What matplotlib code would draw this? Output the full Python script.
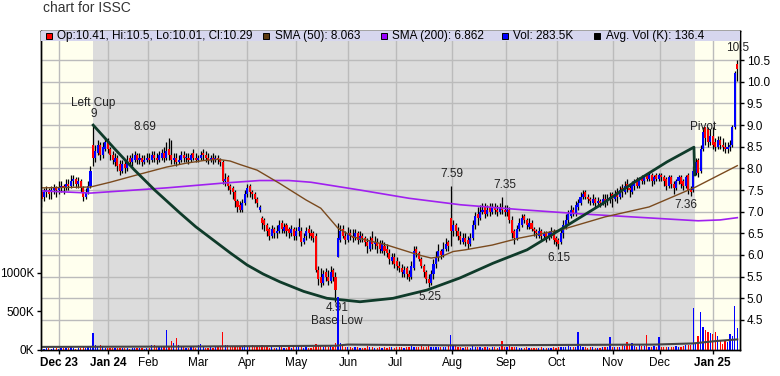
import numpy as np
import matplotlib
matplotlib.use('Agg')
import matplotlib.pyplot as plt
from matplotlib.patches import Rectangle

plt.rcParams['font.family'] = ['Liberation Sans', 'DejaVu Sans']

# daily bars, one per trading day, late Nov 2023 -> mid Jan 2025
opens = [7.45, 7.35, 7.45, 7.50, 7.45, 7.50, 7.55, 7.50, 7.55, 7.60, 7.55, 7.65, 7.60, 7.70, 7.75, 7.65, 7.70, 7.55, 7.35, 7.45, 7.60,
         8.55,
         8.25, 8.35, 8.55, 8.30, 8.45, 8.65,
         8.45, 8.30, 8.15, 8.25, 8.10, 7.95, 8.10,
         8.00, 8.25, 8.15, 8.20, 8.30, 8.20, 8.25, 8.15, 8.20, 8.25, 8.20, 8.30, 8.25, 8.20, 8.25, 8.35, 8.25, 8.45, 8.30, 8.20, 8.25, 8.15, 8.20, 8.30,
         8.25, 8.25, 8.20, 8.35, 8.25, 8.20, 8.25, 8.35, 8.30, 8.25, 8.20, 8.25, 8.20, 8.25, 8.20,
         8.15, 7.70, 7.80, 7.60, 7.55, 7.45, 7.25, 7.15, 7.05, 7.20, 7.40, 7.60, 7.45, 7.40, 7.30, 7.05,
         6.85, 6.80, 6.70, 6.60, 6.45, 6.60, 6.50, 6.55, 6.75, 6.55, 6.70, 6.60, 6.50, 6.60, 6.45, 6.55, 6.55, 6.30, 6.45, 6.60, 6.50, 6.50,
         6.45, 5.65, 5.50, 5.35, 5.60, 5.50, 5.40, 5.65, 5.50,
         5.95, 6.35, 6.60, 6.45, 6.35, 6.50, 6.45, 6.40, 6.50, 6.35, 6.45,
         6.40, 6.30, 6.15, 6.40, 6.25, 6.30, 6.25, 6.10,
         6.20, 6.15, 6.05, 5.85, 5.95, 5.85, 5.75, 5.70, 5.55, 5.70, 5.55,
         5.50, 5.70, 6.15, 6.05, 5.90, 5.75, 5.60, 5.45,
         5.35, 5.55, 5.80, 5.95, 6.10, 6.00, 6.15, 6.30,
         6.85, 6.55, 6.70, 6.55, 6.45, 6.30, 6.40, 6.35, 6.25,
         6.40, 6.70, 6.95, 6.85, 7.00, 7.10, 6.95, 7.10, 7.00, 7.10, 7.05, 7.00, 7.10, 7.05, 7.00,
         7.05, 6.80, 6.55, 6.40, 6.60, 6.70, 6.90, 6.80, 6.65, 6.75,
         6.60, 6.55, 6.45, 6.55, 6.45, 6.50, 6.40, 6.45, 6.55, 6.40, 6.35,
         6.30, 6.50, 6.65, 6.80, 6.90, 7.05, 6.95, 7.10,
         7.20, 7.35, 7.45, 7.35, 7.30, 7.20, 7.30, 7.20, 7.25, 7.20,
         7.30, 7.25, 7.30, 7.40, 7.30, 7.45, 7.35, 7.55, 7.45, 7.65, 7.55, 7.45,
         7.60, 7.75, 7.60, 7.80, 7.70, 7.85, 7.75, 7.85, 7.70, 7.85, 7.75, 7.85,
         7.80, 7.75, 7.60, 7.80, 7.65, 7.55, 7.70, 7.80, 7.70, 7.60, 7.85, 7.50,
         7.50, 7.90, 8.20, 7.95, 8.45, 8.95,
         8.90, 8.60, 8.75, 8.60, 8.50, 8.65, 8.55, 8.50, 8.45, 8.50,
         8.55, 8.95, 10.41]

highs = [7.50, 7.55, 7.60, 7.55, 7.60, 7.65, 7.60, 7.70, 7.70, 7.65, 7.75, 7.75, 7.85, 7.85, 7.80, 7.80, 7.75, 7.60, 7.55, 7.70, 8.05,
         9.00,
         8.55, 8.65, 8.60, 8.60, 8.70, 8.70,
         8.50, 8.40, 8.35, 8.30, 8.20, 8.20, 8.20,
         8.30, 8.30, 8.35, 8.40, 8.35, 8.35, 8.30, 8.30, 8.35, 8.35, 8.40, 8.40, 8.35, 8.40, 8.45, 8.50, 8.60, 8.70, 8.65, 8.35, 8.35, 8.30, 8.40, 8.40,
         8.35, 8.35, 8.35, 8.45, 8.35, 8.30, 8.40, 8.45, 8.40, 8.35, 8.30, 8.35, 8.30, 8.30, 8.25,
         8.20, 7.90, 7.85, 7.65, 7.60, 7.50, 7.30, 7.25, 7.30, 7.50, 7.65, 7.65, 7.50, 7.45, 7.35, 7.15,
         6.90, 6.85, 6.75, 6.65, 6.70, 6.65, 6.70, 6.80, 6.80, 6.75, 6.75, 6.65, 6.70, 6.65, 6.65, 6.85, 6.65, 6.50, 6.65, 6.70, 6.60, 6.55,
         6.50, 5.75, 5.70, 5.65, 5.70, 5.65, 5.75, 5.70, 5.60,
         6.75, 6.70, 6.70, 6.55, 6.65, 6.60, 6.60, 6.60, 6.55, 6.55, 6.50,
         6.45, 6.40, 6.45, 6.55, 6.45, 6.40, 6.35, 6.35,
         6.30, 6.25, 6.15, 6.05, 6.05, 5.95, 5.85, 5.80, 5.75, 5.75, 5.65,
         5.85, 6.20, 6.20, 6.10, 5.95, 5.80, 5.65, 5.55,
         5.65, 5.90, 6.10, 6.25, 6.15, 6.30, 6.40, 6.35,
         7.59, 6.80, 6.75, 6.65, 6.55, 6.50, 6.50, 6.45, 6.50,
         6.80, 7.00, 7.10, 7.15, 7.20, 7.20, 7.15, 7.20, 7.20, 7.20, 7.15, 7.20, 7.35, 7.15, 7.15,
         7.10, 6.90, 6.60, 6.70, 6.85, 6.95, 6.95, 6.85, 6.85, 6.80,
         6.65, 6.60, 6.65, 6.60, 6.55, 6.55, 6.55, 6.65, 6.60, 6.45, 6.40,
         6.60, 6.80, 6.95, 7.05, 7.15, 7.10, 7.25, 7.30,
         7.45, 7.50, 7.50, 7.40, 7.35, 7.40, 7.35, 7.35, 7.30, 7.40,
         7.40, 7.40, 7.45, 7.45, 7.50, 7.55, 7.60, 7.65, 7.70, 7.75, 7.65, 7.70,
         7.75, 7.80, 7.80, 7.85, 7.85, 7.90, 7.90, 7.90, 7.85, 7.90, 7.90, 7.90,
         7.85, 7.80, 7.85, 7.85, 7.70, 7.75, 7.85, 7.85, 7.75, 7.85, 7.90, 7.60,
         8.05, 8.25, 8.25, 8.55, 8.95, 8.95,
         8.95, 8.90, 8.95, 8.70, 8.75, 8.75, 8.70, 8.60, 8.60, 8.65,
         9.00, 10.25, 10.50]

lows = [7.10, 7.25, 7.35, 7.30, 7.30, 7.40, 7.35, 7.40, 7.45, 7.40, 7.50, 7.50, 7.55, 7.60, 7.55, 7.55, 7.45, 7.25, 7.30, 7.40, 7.55,
        8.05,
        8.15, 8.30, 8.20, 8.25, 8.40, 8.35,
        8.20, 8.10, 8.05, 7.95, 7.85, 7.90, 7.90,
        7.95, 8.05, 8.05, 8.15, 8.10, 8.10, 8.05, 8.10, 8.15, 8.10, 8.15, 8.15, 8.10, 8.15, 8.20, 8.15, 8.20, 8.20, 8.10, 8.10, 8.05, 8.10, 8.15, 8.15,
        8.15, 8.10, 8.15, 8.20, 8.15, 8.15, 8.20, 8.20, 8.15, 8.10, 8.15, 8.10, 8.15, 8.10, 8.05,
        7.65, 7.60, 7.50, 7.40, 7.30, 7.10, 7.00, 7.00, 7.00, 7.15, 7.35, 7.35, 7.30, 7.20, 7.10, 7.00,
        6.60, 6.55, 6.45, 6.35, 6.40, 6.40, 6.40, 6.50, 6.50, 6.50, 6.45, 6.40, 6.45, 6.35, 6.35, 6.45, 6.20, 6.25, 6.35, 6.40, 6.35, 6.30,
        5.60, 5.30, 5.25, 5.30, 5.40, 5.30, 5.35, 5.40, 4.91,
        5.95, 6.30, 6.40, 6.25, 6.30, 6.35, 6.30, 6.35, 6.25, 6.30, 6.30,
        6.20, 6.05, 6.10, 6.15, 6.15, 6.05, 6.05, 6.05,
        6.00, 5.95, 5.80, 5.80, 5.70, 5.65, 5.60, 5.50, 5.50, 5.45, 5.40,
        5.45, 5.65, 5.95, 5.85, 5.70, 5.50, 5.35, 5.25,
        5.30, 5.45, 5.70, 5.85, 5.90, 5.95, 6.10, 6.10,
        6.20, 6.45, 6.45, 6.35, 6.25, 6.25, 6.20, 6.15, 6.20,
        6.35, 6.60, 6.70, 6.80, 6.95, 6.85, 6.90, 6.90, 6.95, 6.95, 6.90, 6.95, 6.95, 6.90, 6.90,
        6.75, 6.40, 6.25, 6.35, 6.55, 6.65, 6.75, 6.60, 6.60, 6.55,
        6.45, 6.40, 6.40, 6.35, 6.40, 6.30, 6.35, 6.40, 6.25, 6.20, 6.15,
        6.25, 6.40, 6.60, 6.75, 6.85, 6.90, 6.90, 7.05,
        7.15, 7.30, 7.30, 7.20, 7.15, 7.15, 7.10, 7.15, 7.10, 7.15,
        7.10, 7.15, 7.20, 7.10, 7.25, 7.20, 7.30, 7.35, 7.40, 7.45, 7.35, 7.40,
        7.50, 7.55, 7.55, 7.65, 7.65, 7.70, 7.70, 7.60, 7.65, 7.70, 7.70, 7.70,
        7.60, 7.50, 7.55, 7.55, 7.40, 7.50, 7.65, 7.55, 7.50, 7.55, 7.40, 7.36,
        7.45, 7.85, 7.80, 7.90, 8.40, 8.55,
        8.50, 8.55, 8.45, 8.40, 8.45, 8.45, 8.40, 8.35, 8.35, 8.40,
        8.50, 8.90, 10.01]

closes = [7.30, 7.45, 7.50, 7.40, 7.50, 7.55, 7.50, 7.55, 7.60, 7.55, 7.65, 7.60, 7.70, 7.75, 7.65, 7.70, 7.55, 7.35, 7.45, 7.60, 7.95,
          8.25,
          8.40, 8.55, 8.30, 8.50, 8.60, 8.45,
          8.30, 8.20, 8.25, 8.05, 7.95, 8.10, 8.00,
          8.20, 8.15, 8.25, 8.30, 8.20, 8.25, 8.15, 8.20, 8.25, 8.20, 8.30, 8.25, 8.20, 8.30, 8.35, 8.25, 8.40, 8.30, 8.20, 8.25, 8.15, 8.20, 8.30, 8.25,
          8.25, 8.20, 8.30, 8.25, 8.20, 8.25, 8.30, 8.30, 8.25, 8.20, 8.25, 8.20, 8.25, 8.20, 8.15,
          7.70, 7.75, 7.60, 7.50, 7.45, 7.25, 7.10, 7.05, 7.20, 7.40, 7.55, 7.45, 7.40, 7.30, 7.20, 7.10,
          6.75, 6.70, 6.55, 6.45, 6.60, 6.50, 6.55, 6.70, 6.60, 6.65, 6.55, 6.50, 6.60, 6.45, 6.55, 6.65, 6.30, 6.40, 6.55, 6.50, 6.45, 6.40,
          5.65, 5.45, 5.35, 5.55, 5.50, 5.40, 5.60, 5.50, 5.20,
          6.40, 6.55, 6.45, 6.35, 6.50, 6.45, 6.40, 6.50, 6.35, 6.45, 6.40,
          6.30, 6.20, 6.35, 6.25, 6.30, 6.20, 6.15, 6.25,
          6.10, 6.05, 5.90, 5.95, 5.80, 5.75, 5.70, 5.60, 5.65, 5.55, 5.50,
          5.75, 6.10, 6.05, 5.90, 5.75, 5.60, 5.45, 5.35,
          5.55, 5.80, 5.95, 6.10, 6.00, 6.15, 6.25, 6.20,
          6.55, 6.70, 6.55, 6.45, 6.35, 6.40, 6.30, 6.25, 6.40,
          6.70, 6.90, 6.85, 7.00, 7.05, 6.95, 7.05, 7.00, 7.10, 7.05, 7.00, 7.10, 7.05, 7.00, 7.05,
          6.80, 6.50, 6.40, 6.60, 6.75, 6.85, 6.80, 6.70, 6.75, 6.60,
          6.55, 6.50, 6.55, 6.45, 6.50, 6.40, 6.50, 6.55, 6.35, 6.30, 6.25,
          6.50, 6.70, 6.80, 6.95, 7.05, 6.95, 7.15, 7.20,
          7.35, 7.40, 7.35, 7.30, 7.25, 7.30, 7.20, 7.25, 7.20, 7.30,
          7.25, 7.30, 7.35, 7.30, 7.40, 7.35, 7.50, 7.45, 7.60, 7.55, 7.50, 7.65,
          7.70, 7.60, 7.75, 7.70, 7.80, 7.75, 7.85, 7.70, 7.80, 7.75, 7.85, 7.80,
          7.70, 7.60, 7.80, 7.65, 7.55, 7.70, 7.80, 7.65, 7.60, 7.80, 7.50, 7.45,
          7.95, 8.15, 7.90, 8.45, 8.85, 8.70,
          8.60, 8.75, 8.55, 8.50, 8.65, 8.55, 8.50, 8.45, 8.50, 8.55,
          8.95, 10.20, 10.29]

# volume in thousands of shares
volume_k = [25, 15, 20, 30, 15, 20, 25, 15, 20, 30, 20, 25, 35, 20, 15, 25, 30, 45, 25, 35, 50,
            220, 60, 40, 70, 35, 30, 25, 30, 20, 25, 20, 30, 25, 20,
            20, 15, 25, 20, 30, 20, 25, 15, 20, 25, 60, 65, 40, 50, 35, 40, 260, 45, 110, 90, 150, 70, 40, 35,
            30, 25, 40, 35, 30, 70, 80, 45, 30, 25, 35, 30, 40, 35, 50,
            230, 60, 70, 45, 40, 55, 50, 35, 40, 60, 45, 50, 70, 40, 35, 45,
            60, 40, 35, 30, 45, 30, 25, 40, 35, 30, 25, 35, 30, 40, 35, 45, 50, 30, 35, 25, 30, 40,
            80, 60, 55, 45, 60, 40, 50, 45, 90,
            685, 90, 60, 45, 40, 35, 30, 40, 35, 30, 25,
            30, 50, 35, 40, 30, 25, 35, 30,
            35, 30, 40, 35, 30, 45, 35, 40, 30, 35, 40,
            50, 45, 35, 40, 60, 45, 40, 55,
            40, 35, 45, 40, 35, 45, 40, 50,
            195, 55, 70, 40, 35, 30, 40, 35, 30,
            60, 45, 40, 35, 30, 40, 35, 30, 35, 40, 30, 35, 115, 40, 35,
            50, 45, 40, 35, 30, 25, 30, 35, 30, 25,
            30, 25, 30, 35, 30, 25, 30, 25, 35, 30, 40,
            45, 40, 35, 50, 40, 35, 45, 237,
            50, 40, 35, 30, 40, 35, 30, 25, 30, 35,
            40, 35, 172, 40, 35, 45, 40, 60, 50, 107, 80, 90,
            50, 45, 60, 50, 55, 194, 45, 40, 50, 45, 172, 40,
            35, 40, 45, 35, 40, 50, 45, 40, 50, 70, 60, 70,
            540, 90, 180, 487, 300, 258, 237, 215, 210, 237, 180, 130, 80, 120, 100, 202, 185, 568, 283.5]

# moving averages and average volume at a few points
sma50_day = [0, 20, 28, 39, 51, 59, 66, 72, 77, 81, 88, 97, 108, 114, 121, 127, 141, 154, 159, 163, 168, 173, 184, 195, 212, 230, 248, 267, 284]
sma50_val = [7.55, 7.57, 7.68, 7.85, 8.03, 8.12, 8.18, 8.21, 8.17, 8.09, 7.96, 7.66, 7.27, 7.08, 6.62, 6.42, 6.23, 6.00, 5.93, 5.96,
             6.08, 6.12, 6.23, 6.39, 6.58, 6.88, 7.11, 7.57, 8.063]
sma200_day = [0, 20, 51, 74, 89, 101, 110, 130, 150, 171, 195, 220, 250, 268, 277, 284]
sma200_val = [7.48, 7.43, 7.55, 7.66, 7.72, 7.72, 7.68, 7.50, 7.31, 7.16, 7.05, 6.95, 6.85, 6.79, 6.81, 6.862]
avgvol_day = [0, 60, 120, 125, 170, 250, 266, 275, 284]
avgvol_val = [40, 45, 55, 70, 60, 70, 85, 115, 136.4]

# cup-with-handle pattern line
cup_day = [21.1, 29.9, 38.0, 46.2, 56.5, 63.0, 70, 77.0, 83.9, 90.5, 97.3, 107.0, 116.5, 130, 143.5, 157.3, 170.8,
           184.3, 198.2, 211.6, 228, 241.4, 255.3, 266.3, 266.6]
cup_val = [9.0, 8.45, 7.96, 7.5, 6.97, 6.65, 6.35, 6.05, 5.77, 5.56, 5.38, 5.16, 5.0, 4.92, 5.0, 5.19, 5.47,
           5.81, 6.12, 6.58, 7.15, 7.66, 8.15, 8.49, 7.85]

month_pos = [7.3, 27.3, 43.6, 63.8, 84.0, 103.9, 125.2, 144.6, 167.7, 189.5, 210.3, 233.1, 252.4, 274.0]
month_labels = ['Dec 23', 'Jan 24', 'Feb', 'Mar', 'Apr', 'May', 'Jun', 'Jul', 'Aug', 'Sep', 'Oct', 'Nov', 'Dec', 'Jan 25']
bold_labels = ['Dec 23', 'Jan 24', 'Jan 25']

shade_ranges = [(-0.5, 20.9), (266.8, 286)]

notes = [('Left Cup', 21.2, 9.52), ('9', 21.2, 9.26), ('8.69', 42.2, 8.96), ('4.91', 120.6, 4.77),
         ('Base Low', 120.6, 4.47), ('5.25', 158.6, 5.03), ('7.59', 167.6, 7.87), ('7.35', 189.2, 7.62),
         ('6.15', 211.2, 5.93), ('7.36', 263.0, 7.15), ('Pivot', 270.0, 8.96), ('10.5', 284.3, 10.78)]

days = np.arange(len(closes))
o = np.array(opens)
c = np.array(closes)

fig = plt.figure(figsize=(7.8, 3.76), dpi=100)
ax = fig.add_axes([41 / 780, 26 / 376, 699 / 780, 319 / 376])
ax.set_facecolor('#dcdcdc')
ax_vol = ax.twinx()

for a, b in shade_ranges:
    ax.axvspan(a, b, color='#ffffee', lw=0, zorder=0.1)

ax.set_axisbelow(True)
ax.grid(True, color='#bbbbbb', lw=1)

# candles: black high-low wick, colored open-close body
ax.vlines(days, lows, highs, color='black', lw=0.9, zorder=2)
body = np.where(np.abs(c - o) < 0.02, 0.02, c - o)
ax.bar(days, body, bottom=o, width=0.85, color=np.where(c >= o, '#0000ff', '#ff0000'), lw=0, zorder=3)

ax.plot(sma200_day, sma200_val, color='#a020f0', lw=1.2, zorder=4)
ax.plot(sma50_day, sma50_val, color='#7a4a1e', lw=1.0, zorder=4)
ax.plot(cup_day, cup_val, color='#0f3b2a', lw=2.0, zorder=5)

for txt, x, y in notes:
    ax.text(x, y, txt, ha='center', va='center', fontsize=8.5, color='#222222', zorder=6)

# volume bars colored by close vs previous close
prev = np.r_[c[0], c[:-1]]
ax_vol.bar(days, volume_k, width=0.5, color=np.where(c >= prev, '#0000ff', '#ff0000'), lw=0)
ax_vol.plot(avgvol_day, avgvol_val, color='#444444', lw=1.5)

ax.set_xlim(-0.2, 285.1)
ax.set_ylim(3.806, 11.173)
ax_vol.set_ylim(0, 4121)

ax.yaxis.tick_right()
ax.set_yticks(np.arange(4.5, 10.51, 0.5))
ax.set_yticklabels(['%.1f' % v for v in np.arange(4.5, 10.51, 0.5)])
ax_vol.yaxis.tick_left()
ax_vol.set_yticks([0, 500, 1000])
ax_vol.set_yticklabels(['0K', '500K', '1000K'])

ax.set_xticks(month_pos)
ax.set_xticklabels(month_labels)
for lab in ax.get_xticklabels():
    if lab.get_text() in bold_labels:
        lab.set_fontweight('bold')

for a in (ax, ax_vol):
    a.tick_params(length=3, width=1, labelsize=8.5, colors='black', pad=2)
    for s in a.spines.values():
        s.set_color('black')
        s.set_linewidth(1)

# legend strip along the top of the plot
ax_vol.add_patch(Rectangle((0, 0.9687), 1, 0.0313, transform=ax_vol.transAxes,
                           facecolor='#d6d6ee', edgecolor='none', zorder=7))
legend_items = [('#ff0000', 'Op:10.41, Hi:10.5, Lo:10.01, Cl:10.29', 0.0114, 0.0225),
                ('#5c3a10', 'SMA (50): 8.063', 0.322, 0.335),
                ('#9900ff', 'SMA (200): 6.862', 0.490, 0.502),
                ('#0000ff', 'Vol: 283.5K', 0.664, 0.675),
                ('#000000', 'Avg. Vol (K): 136.4', 0.796, 0.808)]
for col, txt, xs, xt in legend_items:
    ax_vol.plot([xs], [0.984], marker='s', ms=5, mfc=col, mec='black', mew=0.7,
                transform=ax_vol.transAxes, clip_on=False, zorder=8)
    ax_vol.text(xt, 0.984, txt, transform=ax_vol.transAxes, fontsize=8.5, va='center', zorder=8)

fig.text(43 / 780, 1 - 8 / 376, 'chart for ISSC', fontsize=10, va='center', color='#333333')

fig.savefig('out.png', dpi=100)
